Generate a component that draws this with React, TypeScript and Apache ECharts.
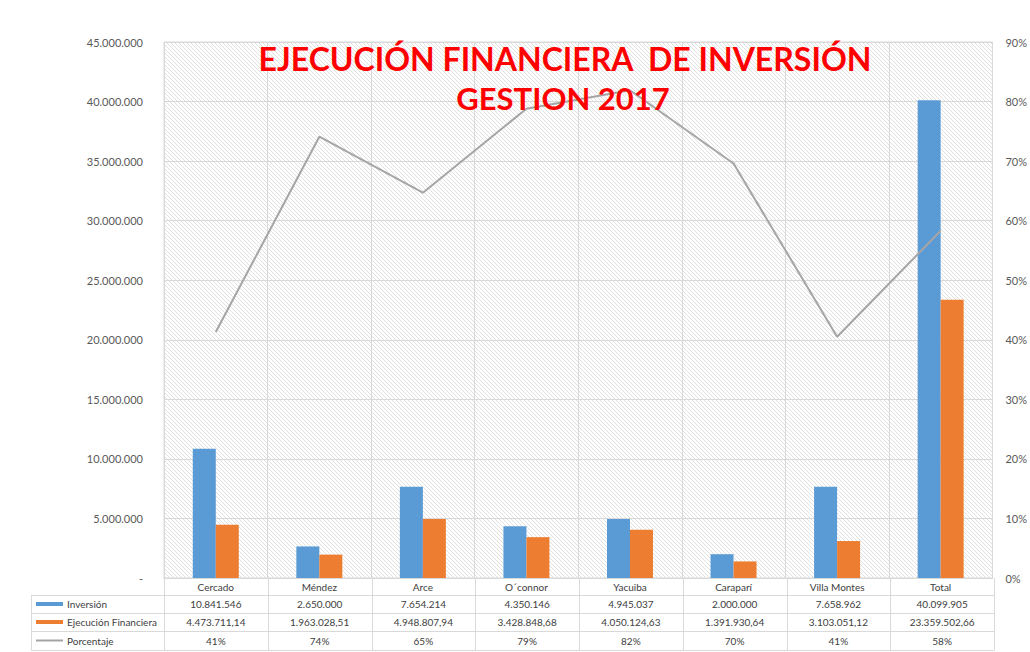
import React, { useEffect, useRef } from 'react';
import * as echarts from 'echarts';

const categories = ['Cercado', 'Méndez', 'Arce', 'O´connor', 'Yacuiba', 'Caraparí', 'Villa Montes', 'Total'];
const inversion = [10841546, 2650000, 7654214, 4350146, 4945037, 2000000, 7658962, 40099905];
const ejecucion = [4473711.14, 1963028.51, 4948807.94, 3428848.68, 4050124.63, 1391930.64, 3103051.12, 23359502.66];
const porcentaje = [41.3, 74.1, 64.7, 78.8, 81.9, 69.6, 40.5, 58.3];
const porcentajeLabels = ['41%', '74%', '65%', '79%', '82%', '70%', '41%', '58%'];
const seriesNames = ['Inversión', 'Ejecución Financiera', 'Porcentaje'];
const titleLines = ['EJECUCIÓN FINANCIERA  DE INVERSIÓN', 'GESTION 2017'];

const BLUE = '#5b9bd5';
const ORANGE = '#ed7d31';
const GRAY = '#a5a5a5';
const GRID_C = '#d9d9d9';
const FONT = 'Lato, "Open Sans", sans-serif';

const L = 164, R = 994, T = 42, B = 578;
const TABLE_LEFT = 31;
const ROW_LINES = [595, 613, 631, 650];

function fmtInt(v: number): string {
  return Math.round(v).toString().replace(/\B(?=(\d{3})+(?!\d))/g, '.');
}
function fmtDec(v: number): string {
  const [i, d] = v.toFixed(2).split('.');
  return i.replace(/\B(?=(\d{3})+(?!\d))/g, '.') + ',' + d;
}

export default function App() {
  const ref = useRef<HTMLDivElement>(null);
  useEffect(() => {
    if (!ref.current) return;
    const chart = echarts.init(ref.current, null, { renderer: 'svg' });

    const tile = document.createElement('canvas');
    tile.width = 4; tile.height = 4;
    const ctx = tile.getContext('2d')!;
    ctx.fillStyle = '#ffffff';
    ctx.fillRect(0, 0, 4, 4);
    ctx.fillStyle = '#e0e0e0';
    for (let i = 0; i < 4; i++) ctx.fillRect(i, i, 1, 1);

    const colW = (R - L) / categories.length;
    const g: any[] = [];
    ROW_LINES.forEach((y) => {
      g.push({ type: 'line', shape: { x1: TABLE_LEFT, y1: y + 0.5, x2: R, y2: y + 0.5 }, style: { stroke: GRID_C, lineWidth: 1 }, silent: true });
    });
    g.push({ type: 'line', shape: { x1: TABLE_LEFT + 0.5, y1: ROW_LINES[0], x2: TABLE_LEFT + 0.5, y2: ROW_LINES[3] + 0.5 }, style: { stroke: GRID_C, lineWidth: 1 } });
    for (let k = 0; k <= categories.length; k++) {
      const x = Math.round(L + k * colW) + 0.5;
      g.push({ type: 'line', shape: { x1: x, y1: B, x2: x, y2: ROW_LINES[3] + 0.5 }, style: { stroke: GRID_C, lineWidth: 1 } });
    }
    const rowC = [604, 622, 640.5];
    g.push({ type: 'rect', shape: { x: 36, y: rowC[0] - 2, width: 27, height: 4 }, style: { fill: BLUE } });
    g.push({ type: 'rect', shape: { x: 36, y: rowC[1] - 2, width: 27, height: 4 }, style: { fill: ORANGE } });
    g.push({ type: 'line', shape: { x1: 36, y1: rowC[2], x2: 63, y2: rowC[2] }, style: { stroke: GRAY, lineWidth: 2 } });
    seriesNames.forEach((n, r) => {
      g.push({ type: 'text', x: 67, y: rowC[r], style: { text: n, fill: '#404040', font: `10px ${FONT}`, textAlign: 'left', textVerticalAlign: 'middle' } });
    });
    const rows = [inversion.map(fmtInt), ejecucion.map(fmtDec), porcentajeLabels];
    rows.forEach((vals, r) => {
      vals.forEach((t, i) => {
        g.push({ type: 'text', x: L + (i + 0.5) * colW, y: rowC[r], style: { text: t, fill: '#404040', font: `10px ${FONT}`, textAlign: 'center', textVerticalAlign: 'middle' } });
      });
    });
    g.push({ type: 'text', x: 565, y: 58, z: 10, style: { text: titleLines[0], fill: '#ff0000', font: `bold 32px ${FONT}`, textAlign: 'center', textVerticalAlign: 'middle' } });
    g.push({ type: 'text', x: 563, y: 98, z: 10, style: { text: titleLines[1], fill: '#ff0000', font: `bold 31px ${FONT}`, textAlign: 'center', textVerticalAlign: 'middle' } });

    chart.setOption({
      animation: false,
      backgroundColor: '#ffffff',
      grid: {
        left: L, right: 1030 - R, top: T, bottom: 652 - B,
        show: true,
        backgroundColor: { image: tile, repeat: 'repeat', imageWidth: 4, imageHeight: 4 } as any,
        borderColor: GRID_C, borderWidth: 1,
      },
      xAxis: {
        type: 'category', data: categories,
        axisLine: { lineStyle: { color: GRID_C } },
        axisTick: { show: false },
        axisLabel: { color: '#404040', fontSize: 10, fontFamily: FONT, margin: 4, interval: 0 },
        splitLine: { show: true, interval: 0, lineStyle: { color: GRID_C } },
      },
      yAxis: [
        {
          type: 'value', min: 0, max: 45000000, interval: 5000000,
          axisLine: { show: false }, axisTick: { show: false },
          axisLabel: { color: '#595959', fontSize: 11, fontFamily: FONT, margin: 21, formatter: (v: number) => (v === 0 ? '-' : fmtInt(v)) },
          splitLine: { lineStyle: { color: GRID_C } },
        },
        {
          type: 'value', min: 0, max: 90, interval: 10,
          axisLine: { show: false }, axisTick: { show: false },
          axisLabel: { color: '#595959', fontSize: 11, fontFamily: FONT, margin: 13, formatter: '{value}%' },
          splitLine: { show: false },
        },
      ],
      series: [
        { name: seriesNames[0], type: 'bar', data: inversion, barWidth: 23, barGap: '0%', itemStyle: { color: BLUE }, z: 3 },
        { name: seriesNames[1], type: 'bar', data: ejecucion, barWidth: 23, barGap: '0%', itemStyle: { color: ORANGE }, z: 3 },
        { name: seriesNames[2], type: 'line', yAxisIndex: 1, data: porcentaje, symbol: 'none', lineStyle: { color: GRAY, width: 2 }, z: 4 },
      ],
      graphic: g,
    });
    return () => chart.dispose();
  }, []);
  return <div ref={ref} style={{ position: 'fixed', left: 0, top: 0, width: 1030, height: 652 }} />;
}
